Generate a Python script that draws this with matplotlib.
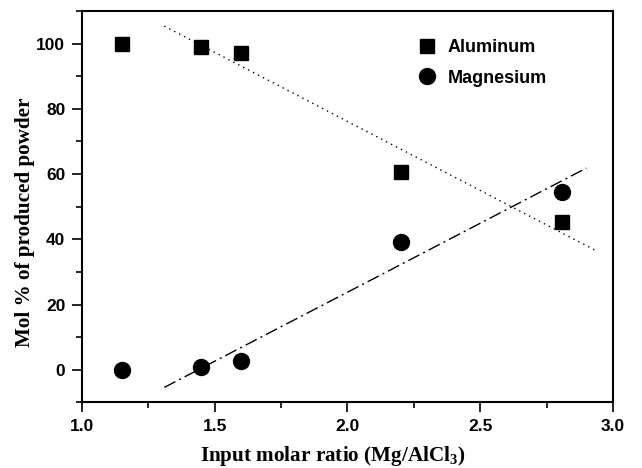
import numpy as np
import matplotlib
matplotlib.use("Agg")
import matplotlib.pyplot as plt
from matplotlib.ticker import MultipleLocator, FormatStrFormatter

plt.rcParams['mathtext.fontset'] = 'custom'
plt.rcParams['mathtext.rm'] = 'Liberation Serif:bold'
plt.rcParams['mathtext.bf'] = 'Liberation Serif:bold'

# data
ratio = [1.15, 1.45, 1.60, 2.20, 2.81]
aluminum = [100.0, 99.0, 97.2, 60.5, 45.4]
magnesium = [0.0, 1.0, 2.8, 39.3, 54.6]

# linear fits use the points from x = 1.45 on
al_fit_range = (1.31, 2.93)
mg_fit_range = (1.31, 2.90)

fig = plt.figure(figsize=(6.42, 4.68), dpi=100)
ax = fig.add_axes([0.1277, 0.140, 0.827, 0.8365])

x = np.array(ratio)
al_coef = np.polyfit(x[1:], np.array(aluminum)[1:], 1)
mg_coef = np.polyfit(x[1:], np.array(magnesium)[1:], 1)

xa = np.linspace(*al_fit_range, 50)
xm = np.linspace(*mg_fit_range, 50)
ax.plot(xa, np.polyval(al_coef, xa), color='black', lw=1.0, ls=(0, (1, 3)))
ax.plot(xm, np.polyval(mg_coef, xm), color='black', lw=1.0, ls=(0, (9, 3, 1.5, 3)))

ax.plot(ratio, aluminum, 's', color='black', ms=10, label='Aluminum')
ax.plot(ratio, magnesium, 'o', color='black', ms=11.5, label='Magnesium')

ax.set_xlim(1.0, 3.0)
ax.set_ylim(-10, 110)
ax.xaxis.set_major_locator(MultipleLocator(0.5))
ax.xaxis.set_minor_locator(MultipleLocator(0.25))
ax.yaxis.set_major_locator(MultipleLocator(20))
ax.yaxis.set_minor_locator(MultipleLocator(10))
ax.xaxis.set_major_formatter(FormatStrFormatter('%.1f'))
ax.tick_params(which='both', direction='out', width=1.2)
ax.tick_params(which='major', length=7, pad=5)
ax.tick_params(which='minor', length=4)
for s in ax.spines.values():
    s.set_linewidth(1.5)

for lab in ax.get_xticklabels() + ax.get_yticklabels():
    lab.set_fontfamily('Liberation Sans')
    lab.set_fontweight('bold')
    lab.set_fontsize(12.5)

ax.set_xlabel('Input molar ratio (Mg/AlCl$_\\mathbf{3}$)', family='Liberation Serif',
              weight='bold', size=15.2, labelpad=7)
ax.set_ylabel('Mol % of produced powder', family='Liberation Serif',
              weight='bold', size=15.2, labelpad=1)
ax.xaxis.label.set_x(0.473)
ax.yaxis.label.set_y(0.46)

legend_font = {'family': 'Liberation Sans', 'weight': 'bold', 'size': 13}
ax.legend(loc='upper left', bbox_to_anchor=(0.603, 0.97), frameon=False,
          prop=legend_font, handletextpad=0.6, labelspacing=0.75, handlelength=1.0)

fig.savefig('out.png', dpi=100)
